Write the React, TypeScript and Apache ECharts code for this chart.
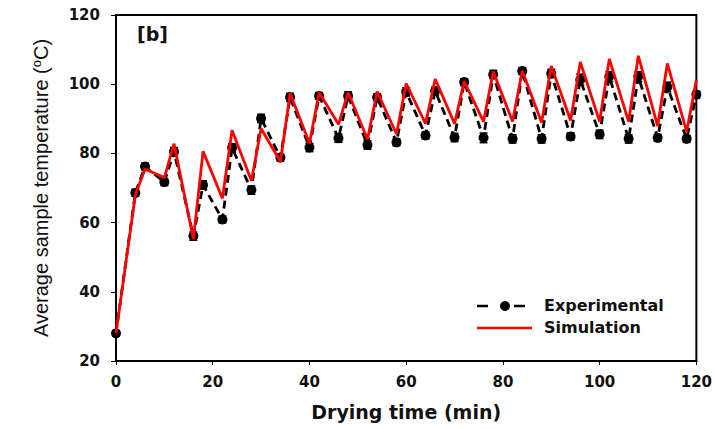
import React, { useEffect, useRef } from "react";
import * as echarts from "echarts";

const timeMin = [0, 4, 6, 10, 12, 16, 18, 22, 24, 28, 30, 34, 36, 40, 42, 46, 48, 52, 54, 58, 60, 64, 66, 70, 72, 76, 78, 82, 84, 88, 90, 94, 96, 100, 102, 106, 108, 112, 114, 118, 120];
const experimental = [28, 68.6, 76.2, 71.7, 80.5, 56.1, 70.9, 60.9, 81.6, 69.4, 90.1, 78.8, 96.2, 81.7, 96.6, 84.4, 96.6, 82.4, 96.2, 83.2, 97.8, 85.2, 98.0, 84.6, 100.6, 84.5, 102.8, 84.2, 103.8, 84.2, 103.1, 84.9, 101.3, 85.5, 102.2, 84.2, 102.2, 84.5, 99.2, 84.2, 97.0];
const expError = [0.8, 1.0, 1.0, 1.0, 1.2, 1.2, 1.2, 1.0, 1.2, 1.2, 1.2, 1.0, 1.2, 1.2, 1.0, 1.2, 1.2, 1.2, 1.0, 1.0, 1.2, 1.0, 1.2, 1.2, 1.0, 1.4, 1.2, 1.2, 1.0, 1.2, 1.2, 1.0, 1.6, 1.2, 1.4, 1.2, 1.4, 1.0, 1.4, 1.0, 1.0];
const simulation = [28, 68, 75.5, 73.0, 82.8, 55.2, 80.6, 67.0, 86.7, 72.1, 87.2, 77.6, 97.4, 82.9, 97.6, 88.4, 97.6, 84.1, 97.9, 85.6, 100.2, 88.6, 101.5, 88.6, 100.8, 89.2, 103.7, 89.2, 103.9, 88.9, 105.3, 89.5, 106.4, 89.2, 107.3, 89.2, 108.2, 87.9, 106.0, 86.3, 101.2];
const xTicks = [0, 20, 40, 60, 80, 100, 120];
const yTicks = [20, 40, 60, 80, 100, 120];
const legendNames = ["Experimental", "Simulation"];

const BOLD = "'DejaVu Sans', 'Liberation Sans', Arial, sans-serif";
const REG = "'Liberation Sans', Arial, sans-serif";

export default function App() {
  const ref = useRef<HTMLDivElement>(null);
  useEffect(() => {
    if (!ref.current) return;
    const chart = echarts.init(ref.current, null, { renderer: "svg" });
    const expData = timeMin.map((t, i) => [t, experimental[i]]);
    const simData = timeMin.map((t, i) => [t, simulation[i]]);
    const errData = timeMin.map((t, i) => [t, experimental[i] - expError[i], experimental[i] + expError[i]]);
    chart.setOption({
      animation: false,
      backgroundColor: "#fff",
      textStyle: { fontFamily: REG },
      grid: { left: 116, right: 18, top: 15, bottom: 68, show: true, borderColor: "#000", borderWidth: 2, backgroundColor: "transparent" },
      xAxis: {
        type: "value",
        min: 0,
        max: 120,
        interval: 20,
        name: "Drying time (min)",
        nameLocation: "middle",
        nameGap: 41,
        nameTextStyle: { fontFamily: BOLD, fontWeight: "bold", fontSize: 19, color: "#111" },
        axisLine: { lineStyle: { color: "#000", width: 2 } },
        axisTick: { length: 4, lineStyle: { color: "#000", width: 1 } },
        axisLabel: {
          margin: 13,
          fontFamily: BOLD,
          fontWeight: "bold",
          fontSize: 15,
          color: "#111",
          customValues: xTicks,
        },
        splitLine: { show: false },
      },
      yAxis: {
        type: "value",
        min: 20,
        max: 120,
        interval: 20,
        name: "{n|Average sample temperature (}{s|o}{n|C)}",
        nameLocation: "middle",
        nameGap: 64,
        nameTextStyle: {
          rich: {
            n: { fontFamily: REG, fontSize: 20, color: "#111" },
            s: { fontFamily: REG, fontSize: 13, color: "#111", verticalAlign: "top", padding: [0, 0, 9, 0] },
          },
        },
        axisLine: { show: true, lineStyle: { color: "#000", width: 2 } },
        axisTick: { show: true, length: 5, lineStyle: { color: "#000", width: 1 } },
        axisLabel: {
          margin: 16,
          fontFamily: BOLD,
          fontWeight: "bold",
          fontSize: 15,
          color: "#111",
          customValues: yTicks,
        },
        splitLine: { show: false },
      },
      graphic: [
        {
          type: "text",
          left: 137,
          top: 24,
          style: { text: "[b]", fontFamily: BOLD, fontWeight: "bold", fontSize: 19, fill: "#111" },
        },
        { type: "line", shape: { x1: 477, y1: 306, x2: 488, y2: 306 }, style: { stroke: "#000", lineWidth: 2.5 } },
        { type: "line", shape: { x1: 514, y1: 306, x2: 525, y2: 306 }, style: { stroke: "#000", lineWidth: 2.5 } },
        { type: "circle", shape: { cx: 505, cy: 306, r: 5 }, style: { fill: "#000" } },
        { type: "line", shape: { x1: 477, y1: 328, x2: 532, y2: 328 }, style: { stroke: "#f00", lineWidth: 2.5 } },
        {
          type: "text",
          left: 544,
          top: 297,
          style: { text: legendNames[0], fontFamily: BOLD, fontWeight: "bold", fontSize: 16, fill: "#111" },
        },
        {
          type: "text",
          left: 544,
          top: 319,
          style: { text: legendNames[1], fontFamily: BOLD, fontWeight: "bold", fontSize: 16, fill: "#111" },
        },
      ],
      series: [
        {
          name: "ErrorBars",
          type: "custom",
          data: errData,
          z: 3,
          renderItem: (params: any, api: any) => {
            const x = api.value(0);
            const lo = api.coord([x, api.value(1)]);
            const hi = api.coord([x, api.value(2)]);
            const w = 4;
            const style = { stroke: "#000", lineWidth: 1.5 };
            return {
              type: "group",
              children: [
                { type: "line", shape: { x1: lo[0], y1: lo[1], x2: hi[0], y2: hi[1] }, style },
                { type: "line", shape: { x1: lo[0] - w, y1: lo[1], x2: lo[0] + w, y2: lo[1] }, style },
                { type: "line", shape: { x1: hi[0] - w, y1: hi[1], x2: hi[0] + w, y2: hi[1] }, style },
              ],
            };
          },
        },
        {
          name: legendNames[0],
          type: "line",
          data: expData,
          z: 4,
          symbol: "circle",
          symbolSize: 10,
          itemStyle: { color: "#000" },
          lineStyle: { color: "#000", width: 2.8, type: [8, 5] },
        },
        {
          name: legendNames[1],
          type: "line",
          data: simData,
          z: 5,
          symbol: "none",
          itemStyle: { color: "#f00" },
          lineStyle: { color: "#f00", width: 2.8 },
        },
      ],
    });
    return () => chart.dispose();
  }, []);
  return <div ref={ref} style={{ width: 715, height: 429, position: "absolute", left: 0, top: 0 }} />;
}
